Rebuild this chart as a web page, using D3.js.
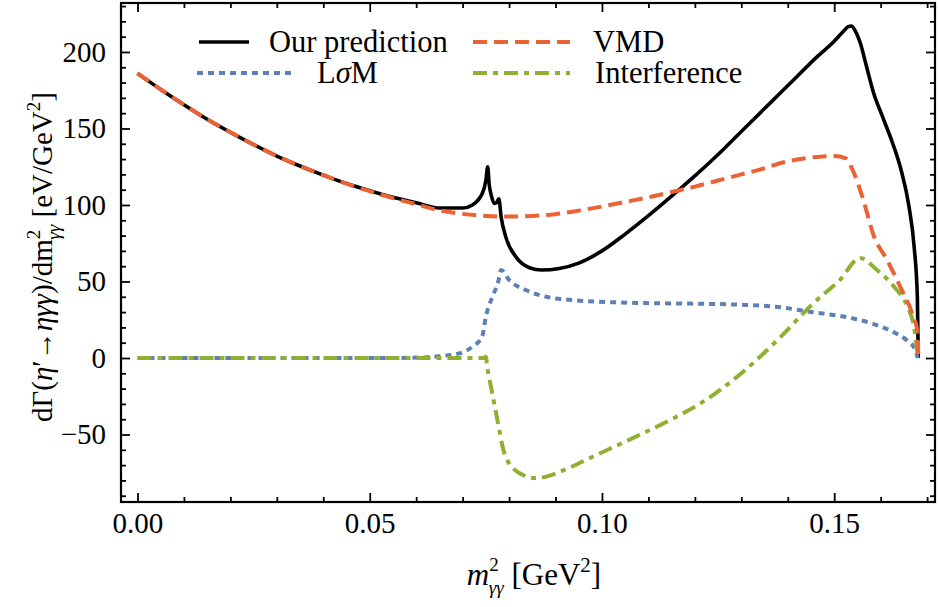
<!DOCTYPE html>
<html>
<head>
<meta charset="utf-8">
<script src="https://cdn.jsdelivr.net/npm/d3@7"></script>
<style>
  body { margin: 0; background: #fff; }
  svg text { font-family: "Liberation Serif", "DejaVu Serif", "Noto Serif", serif; fill: #000; }
</style>
</head>
<body>
<script>
var width = 938
var height = 607
var margin = {top: 3, right: 3, bottom: 105, left: 121}
var serif = '"Liberation Serif", "DejaVu Serif", serif'

// curves (x in GeV^2, y in eV/GeV^2)
var vmdX = [0, 0.005, 0.01, 0.015, 0.02, 0.025, 0.03, 0.035, 0.04, 0.045, 0.05, 0.055, 0.06, 0.065, 0.07, 0.075, 0.08, 0.085, 0.09, 0.095, 0.1, 0.105, 0.11, 0.115, 0.12, 0.125, 0.13, 0.135, 0.138, 0.14, 0.145, 0.15, 0.1525, 0.1538, 0.1562, 0.1585, 0.1614, 0.1643, 0.1668, 0.168, 0.1681]
var vmdY = [186, 175.5, 165.5, 156, 147.5, 139.5, 132, 125.5, 119.5, 114, 109, 104.5, 100.5, 96.5, 94.2, 92.8, 92.4, 92.8, 94, 96.3, 99, 102, 105, 108.5, 112, 116, 120, 124, 127, 128.5, 131, 132, 130.5, 124, 104, 80, 64, 46, 29, 16, 0]

var predX = [0, 0.005, 0.01, 0.015, 0.02, 0.025, 0.03, 0.035, 0.04, 0.045, 0.05, 0.055, 0.06, 0.065, 0.07, 0.0721, 0.0743, 0.075, 0.0754, 0.0757, 0.0762, 0.0768, 0.0773, 0.0778, 0.0783, 0.0793, 0.0815, 0.0844, 0.087, 0.0908, 0.095, 0.1, 0.105, 0.11, 0.1166, 0.12, 0.125, 0.13, 0.135, 0.138, 0.142, 0.146, 0.15, 0.152, 0.153, 0.1537, 0.1545, 0.1556, 0.157, 0.1585, 0.1605, 0.1625, 0.1643, 0.1661, 0.1672, 0.1679, 0.1681]
var predY = [186, 175.5, 165.5, 156, 147.5, 139.5, 132, 125.5, 119.5, 114, 109.3, 105, 101.5, 98, 98, 100, 108, 116, 125, 114, 106, 101, 101.5, 104, 92, 79, 66, 59, 57.5, 58.5, 62, 70, 81, 93, 110, 119, 133, 148, 163, 172, 184, 196, 207, 213.5, 216.5, 217, 214, 206, 190, 173, 157, 141, 124, 99, 73, 40, 0]

var lsmX = [0, 0.02, 0.04, 0.055, 0.0607, 0.065, 0.0693, 0.0721, 0.0742, 0.075, 0.0764, 0.0776, 0.0783, 0.08, 0.0836, 0.088, 0.093, 0.0994, 0.1073, 0.12, 0.13, 0.138, 0.1454, 0.1527, 0.1585, 0.1629, 0.1658, 0.1672, 0.168]
var lsmY = [0, 0, 0, 0, 0.3, 1.2, 3, 7.4, 14, 27, 40, 49, 57.5, 51, 44.4, 40, 38, 36.8, 36, 35.5, 34.8, 33.3, 29.9, 26.7, 22.2, 16.7, 11.2, 6.8, 0]

var intX = [0, 0.02, 0.04, 0.06, 0.0745, 0.075, 0.0753, 0.0761, 0.0772, 0.0779, 0.0786, 0.0795, 0.081, 0.083, 0.0854, 0.088, 0.092, 0.098, 0.1073, 0.115, 0.121, 0.13, 0.138, 0.1454, 0.1512, 0.1556, 0.1592, 0.1629, 0.1658, 0.1672, 0.168]
var intY = [0, 0, 0, 0, 0, 0.8, -5.7, -18.7, -36, -47, -58, -66, -72.5, -76.5, -78.4, -77.5, -73, -64.5, -51.4, -40, -30, -10, 12.4, 35.5, 51, 65.4, 57.5, 46.5, 33.3, 20, 0]

var xMajor = [0, 0.05, 0.1, 0.15]
var yMajor = [-50, 0, 50, 100, 150, 200]

var series = [
  {name: "Our prediction", xs: predX, ys: predY, color: "#000000", dash: null, width: 3.6},
  {name: "VMD", xs: vmdX, ys: vmdY, color: "#EB6235", dash: "14,7", width: 4},
  {name: "L\u03C3M", xs: lsmX, ys: lsmY, color: "#5E81B5", dash: "6,5", width: 4},
  {name: "Interference", xs: intX, ys: intY, color: "#8FB032", dash: "14,6,5,6", width: 4}
]

var x = d3.scaleLinear().domain([-0.00355, 0.1717]).range([margin.left, width - margin.right])
var y = d3.scaleLinear().domain([-94.1, 232]).range([height - margin.bottom, margin.top])

var svg = d3.select("body").append("svg")
    .attr("width", width)
    .attr("height", height)

var xMinor = d3.range(0, 0.1705, 0.01).filter(function(v){ return Math.abs(v / 0.05 - Math.round(v / 0.05)) > 1e-6 })
var yMinor = d3.range(-90, 231, 10).filter(function(v){ return v % 50 != 0 })

var plotBottom = height - margin.bottom
var plotRight = width - margin.right

function styleAxis(g) {
  g.attr("font-family", null).attr("font-size", null)
  g.select(".domain").remove()
  g.selectAll("line").attr("stroke", "#000").attr("stroke-width", 1.8)
  g.selectAll("text").style("font-size", "29px").style("font-family", serif)
}

// bottom
svg.append("g").attr("transform", "translate(0," + plotBottom + ")")
  .call(d3.axisBottom(x).tickValues(xMajor).tickFormat(d3.format(".2f")).tickSizeInner(-9).tickSizeOuter(0).tickPadding(10))
  .call(styleAxis)
svg.append("g").attr("transform", "translate(0," + plotBottom + ")")
  .call(d3.axisBottom(x).tickValues(xMinor).tickFormat("").tickSizeInner(-5).tickSizeOuter(0))
  .call(styleAxis)
// top
svg.append("g").attr("transform", "translate(0," + margin.top + ")")
  .call(d3.axisTop(x).tickValues(xMajor).tickFormat("").tickSizeInner(-9).tickSizeOuter(0))
  .call(styleAxis)
svg.append("g").attr("transform", "translate(0," + margin.top + ")")
  .call(d3.axisTop(x).tickValues(xMinor).tickFormat("").tickSizeInner(-5).tickSizeOuter(0))
  .call(styleAxis)
// left
svg.append("g").attr("transform", "translate(" + margin.left + ",0)")
  .call(d3.axisLeft(y).tickValues(yMajor).tickSizeInner(-9).tickSizeOuter(0).tickPadding(15))
  .call(styleAxis)
svg.append("g").attr("transform", "translate(" + margin.left + ",0)")
  .call(d3.axisLeft(y).tickValues(yMinor).tickFormat("").tickSizeInner(-5).tickSizeOuter(0))
  .call(styleAxis)
// right
svg.append("g").attr("transform", "translate(" + plotRight + ",0)")
  .call(d3.axisRight(y).tickValues(yMajor).tickFormat("").tickSizeInner(-9).tickSizeOuter(0))
  .call(styleAxis)
svg.append("g").attr("transform", "translate(" + plotRight + ",0)")
  .call(d3.axisRight(y).tickValues(yMinor).tickFormat("").tickSizeInner(-5).tickSizeOuter(0))
  .call(styleAxis)

svg.append("rect")
    .attr("x", margin.left).attr("y", margin.top)
    .attr("width", plotRight - margin.left).attr("height", plotBottom - margin.top)
    .attr("fill", "none").attr("stroke", "#000").attr("stroke-width", 2.2)

var line = d3.line()
    .x(function(d){ return x(d[0]) })
    .y(function(d){ return y(d[1]) })
    .curve(d3.curveMonotoneX)

// draw order: black first, then blue, green, red
var order = [0, 2, 3, 1]
order.forEach(function(i){
  var s = series[i]
  var pts = s.xs.map(function(v, k){ return [v, s.ys[k]] })
  svg.append("path")
    .attr("d", line(pts))
    .attr("fill", "none")
    .attr("stroke", s.color)
    .attr("stroke-width", s.width)
    .attr("stroke-dasharray", s.dash)
    .attr("stroke-linejoin", "round")
})

// legend
var legendPos = [
  {lx: 199, lw: 50, tx: 269, ty: 42},
  {lx: 473, lw: 97, tx: 593, ty: 42},
  {lx: 197, lw: 98, tx: 317, ty: 73},
  {lx: 473, lw: 97, tx: 595, ty: 73}
]
series.forEach(function(s, i){
  var p = legendPos[i]
  svg.append("line")
    .attr("x1", p.lx).attr("x2", p.lx + p.lw)
    .attr("y1", p.ty).attr("y2", p.ty)
    .attr("stroke", s.color).attr("stroke-width", s.width)
    .attr("stroke-dasharray", s.dash)
  var t = svg.append("text")
    .attr("x", p.tx).attr("y", p.ty)
    .attr("dy", "0.33em")
    .style("font-size", "30.5px")
  if (i == 2) {
    t.append("tspan").text("L")
    t.append("tspan").style("font-style", "italic").text("\u03C3")
    t.append("tspan").text("M")
  } else {
    t.text(s.name)
  }
})

// x label
var xl = svg.append("text")
    .attr("x", 534).attr("y", 585)
    .attr("text-anchor", "middle")
    .style("font-size", "31px")
xl.append("tspan").style("font-style", "italic").text("m")
xl.append("tspan").attr("dy", -14).style("font-size", "19px").text("2")
xl.append("tspan").attr("dx", -10).attr("dy", 23).style("font-size", "19px").style("font-style", "italic").text("\u03B3\u03B3")
xl.append("tspan").attr("dy", -9).text(" [GeV")
xl.append("tspan").attr("dy", -13).style("font-size", "21px").text("2")
xl.append("tspan").attr("dy", 13).text("]")

// y label
var yl = svg.append("text")
    .attr("transform", "translate(52," + 257 + ") rotate(-90)")
    .attr("text-anchor", "middle")
    .style("font-size", "29px")
yl.append("tspan").text("d\u0393(")
yl.append("tspan").style("font-style", "italic").text("\u03B7")
yl.append("tspan").text("\u2032\u2192")
yl.append("tspan").style("font-style", "italic").text("\u03B7\u03B3\u03B3")
yl.append("tspan").text(")/dm")
yl.append("tspan").attr("dy", -12).style("font-size", "19px").text("2")
yl.append("tspan").attr("dx", -10).attr("dy", 20).style("font-size", "19px").style("font-style", "italic").text("\u03B3\u03B3")
yl.append("tspan").attr("dy", -8).text(" [eV/GeV")
yl.append("tspan").attr("dy", -12).style("font-size", "19px").text("2")
yl.append("tspan").attr("dy", 12).text("]")
</script>
</body>
</html>
